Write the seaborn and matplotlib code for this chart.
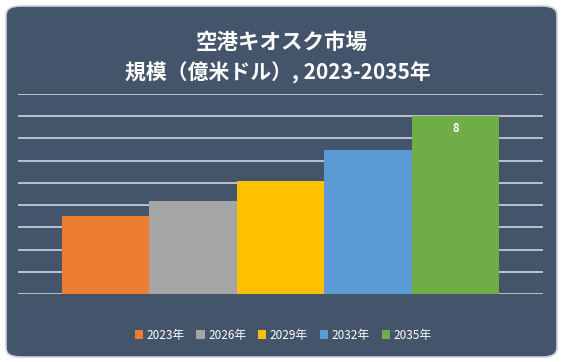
import matplotlib.pyplot as plt
import seaborn as sns
import pandas as pd
from matplotlib.patches import FancyBboxPatch, Patch

# data
years = ["2023年", "2026年", "2029年", "2032年", "2035年"]
sizes = [3.5, 4.2, 5.1, 6.5, 8.0]
colors = ["#ED7D31", "#A5A5A5", "#FFC000", "#5B9BD5", "#70AD47"]

df = pd.DataFrame({"year": years, "size": sizes})

sns.set_style("white")
plt.rcParams['font.family'] = ['Noto Sans CJK JP', 'DejaVu Sans']

fig = plt.figure(figsize=(5.64, 3.62), dpi=100)
fig.patch.set_facecolor("white")

# dark rounded panel behind everything
panel = FancyBboxPatch((6 / 564, 1 - 357 / 362), 551 / 564, 351 / 362,
                       boxstyle="round,pad=0,rounding_size=0.025",
                       transform=fig.transFigure, facecolor="#44546A",
                       edgecolor="#C9D3DD", linewidth=1.2, zorder=-5)
fig.patches.append(panel)

ax = fig.add_axes([18 / 564, 1 - 294 / 362, 525 / 564, 200 / 362])
ax.set_facecolor("none")
ax.set_zorder(2)

sns.barplot(data=df, x="year", y="size", hue="year", palette=colors,
            width=1.0, dodge=False, legend=False, ax=ax, zorder=3,
            saturation=1, edgecolor="none", linewidth=0)

ax.set_xlim(-1, 5)
ax.set_ylim(0, 9)
ax.set_yticks(range(0, 10))
ax.yaxis.grid(True, color="#D9E2EC", linewidth=1.1)
ax.set_axisbelow(True)
ax.set_xticks([])
ax.set_yticklabels([])
ax.tick_params(left=False, bottom=False)
ax.set_xlabel("")
ax.set_ylabel("")
for s in ax.spines.values():
    s.set_visible(False)

# value label on the last bar
ax.text(4, sizes[-1] - 0.55, f"{sizes[-1]:.0f}", ha="center", va="center",
        color="white", fontsize=8, fontweight="bold", zorder=5)

fig.text(282 / 564, 1 - 42 / 362, "空港キオスク市場", ha="center", va="center",
         color="white", fontsize=15.5, fontweight="bold")
fig.text(278 / 564, 1 - 73 / 362, "規模（億米ドル）, 2023-2035年", ha="center",
         va="center", color="white", fontsize=15, fontweight="bold")

handles = [Patch(facecolor=c, edgecolor="none") for c in colors]
fig.legend(handles, years, loc="center", bbox_to_anchor=(283 / 564, 1 - 335 / 362),
           ncol=5, frameon=False, fontsize=8.5, labelcolor="white",
           handlelength=0.7, handleheight=0.7, handletextpad=0.3,
           columnspacing=1.0)

fig.savefig("out.png", dpi=100, facecolor=fig.get_facecolor())
